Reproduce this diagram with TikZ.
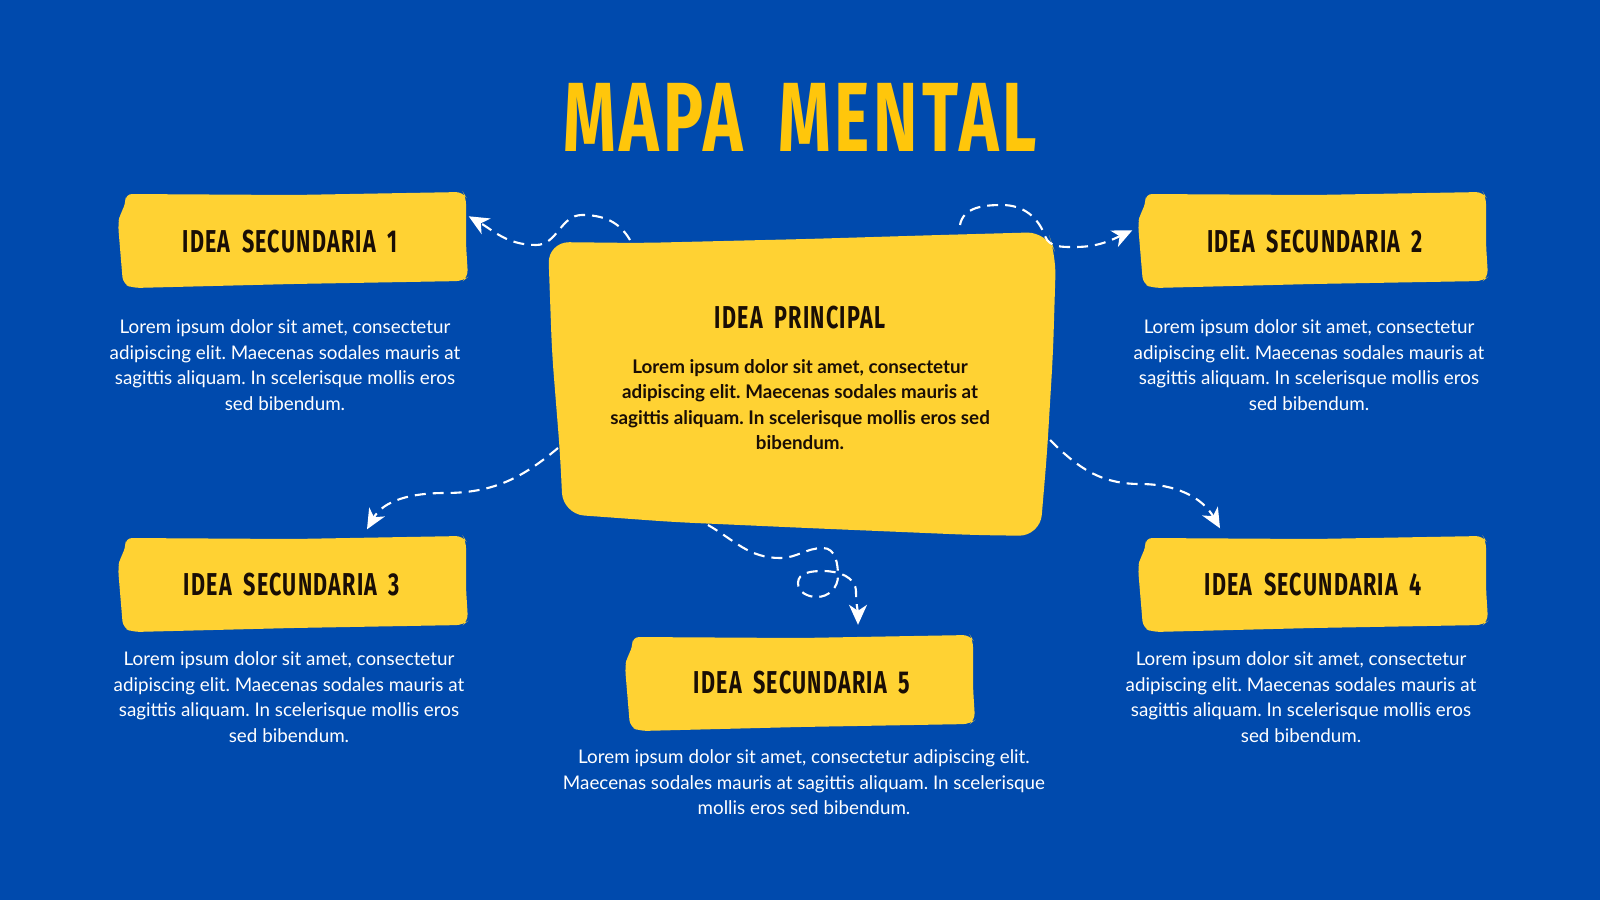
\documentclass[tikz,border=0pt]{standalone}
\usepackage{fontspec}
\setmainfont{Lato}
\newfontfamily\handfont[FakeStretch=0.68,LetterSpace=4,WordSpace=1.4]{Fira Sans}
\newfontfamily\titlefont[FakeStretch=0.68,LetterSpace=4,WordSpace=1.8]{Fira Sans}
\usetikzlibrary{positioning}
\usetikzlibrary{arrows.meta}
\frenchspacing

\definecolor{fondo}{HTML}{004AAD}
\definecolor{amarillo}{HTML}{FFD233}
\definecolor{titulo}{HTML}{FFC60B}
\definecolor{tinta}{HTML}{1A0E05}

\tikzset{
  brush/.pic={
    \fill[amarillo,rounded corners=2pt] (-1.68,0.46) -- (0,0.45) -- (1.70,0.48) -- (1.73,0.43)
      -- (1.73,-0.04) -- (1.75,-0.37) -- (1.70,-0.41) -- (0,-0.44) -- (-1.60,-0.48)
      -- (-1.70,-0.44) -- (-1.72,-0.20) -- (-1.75,0.16) -- (-1.73,0.26) -- (-1.67,0.36) -- cycle;
  },
  secbox/.style={minimum width=3.5cm,minimum height=0.94cm,inner sep=0pt,text=tinta,
    font=\handfont\bfseries\fontsize{9}{10}\selectfont},
  desc/.style={text=white,align=center,inner sep=0pt,font=\fontsize{5.35}{7.25}\selectfont},
  link/.style={white,line width=0.6pt,dash pattern=on 1.1mm off 0.7mm,
    -{Stealth[length=2mm,width=1.8mm,inset=0.6mm]}},
}

\begin{document}
\begin{tikzpicture}
  \fill[fondo] (0,0) rectangle (16,9);
  \node[text=titulo,font=\titlefont\bfseries\fontsize{28}{30}\selectfont] (titulo) at (8.0,7.83) {MAPA MENTAL};

  % idea principal
  \fill[amarillo,rounded corners=6pt] (5.48,6.58) -- (6.40,6.57) -- (8.07,6.61) -- (9.40,6.65)
    -- (10.48,6.68) -- (10.56,6.45) -- (10.53,5.47) -- (10.47,4.47) -- (10.40,3.64)
    -- (9.73,3.65) -- (8.07,3.72) -- (6.73,3.78) -- (5.63,3.86) -- (5.60,4.47) -- (5.52,5.47) -- cycle;
  \node[secbox] (ppal) at (8.0,5.82) {IDEA PRINCIPAL};
  \node[desc,text=tinta,font=\bfseries\fontsize{5.35}{7.25}\selectfont] (ppaltxt) at (8.0,4.955)
    {Lorem ipsum dolor sit amet, consectetur\\adipiscing elit. Maecenas sodales mauris at\\sagittis aliquam. In scelerisque mollis eros sed\\bibendum.};

  % ideas secundarias
  \foreach \p in {(2.93,6.60),(13.13,6.60),(2.93,3.16),(13.13,3.16),(8.00,2.17)}
    \pic at \p {brush};
  \node[secbox] (sec1) at (2.90,6.58) {IDEA SECUNDARIA 1};
  \node[secbox] (sec2) at (13.15,6.58) {IDEA SECUNDARIA 2};
  \node[secbox] (sec3) at (2.92,3.15) {IDEA SECUNDARIA 3};
  \node[secbox] (sec4) at (13.13,3.15) {IDEA SECUNDARIA 4};
  \node[secbox] (sec5) at (8.02,2.175) {IDEA SECUNDARIA 5};

  \node[desc] (desc1) at (2.85,5.35) {Lorem ipsum dolor sit amet, consectetur\\adipiscing elit. Maecenas sodales mauris at\\sagittis aliquam. In scelerisque mollis eros\\sed bibendum.};
  \node[desc] (desc2) at (13.09,5.35) {Lorem ipsum dolor sit amet, consectetur\\adipiscing elit. Maecenas sodales mauris at\\sagittis aliquam. In scelerisque mollis eros\\sed bibendum.};
  \node[desc] (desc3) at (2.89,2.03) {Lorem ipsum dolor sit amet, consectetur\\adipiscing elit. Maecenas sodales mauris at\\sagittis aliquam. In scelerisque mollis eros\\sed bibendum.};
  \node[desc] (desc4) at (13.01,2.03) {Lorem ipsum dolor sit amet, consectetur\\adipiscing elit. Maecenas sodales mauris at\\sagittis aliquam. In scelerisque mollis eros\\sed bibendum.};
  \node[desc] (desc5) at (8.04,1.175) {Lorem ipsum dolor sit amet, consectetur adipiscing elit.\\Maecenas sodales mauris at sagittis aliquam. In scelerisque\\mollis eros sed bibendum.};

  % conectores
  \coordinate (s1) at (6.30,6.60);
  \coordinate (s2) at (9.60,6.75);
  \coordinate (s3) at (5.58,4.52);
  \coordinate (s4) at (10.50,4.60);
  \coordinate (s5) at (7.08,3.75);
  \draw[link] (s1) to[out=120,in=0] (5.82,6.85) to[out=180,in=0] (5.36,6.55)
    to[out=180,in=-30] ([xshift=0.3mm,yshift=-2.2mm]sec1.north east);
  \draw[link] (s2) to[out=80,in=180] (10.02,6.95) to[out=0,in=110] (10.45,6.64)
    to[out=-70,in=180] (10.75,6.53) to[out=0,in=-155] ([xshift=-0.7mm,yshift=-3.6mm]sec2.north west);
  \draw[link] (s3) to[out=220,in=0] (4.45,4.07) to[out=180,in=60] ([xshift=7.5mm,yshift=0.8mm]sec3.north);
  \draw[link] (s4) to[out=-45,in=180] (11.40,4.16) to[out=0,in=120] ([xshift=-9.3mm,yshift=0.9mm]sec4.north);
  \draw[link] (s5) to[out=-30,in=180] (7.80,3.42) to[out=0,in=180] (8.23,3.52)
    to[out=0,in=90] (8.38,3.24) to[out=-90,in=0] (8.17,3.03) to[out=180,in=-90] (7.98,3.17)
    to[out=90,in=180] (8.23,3.29) to[out=0,in=90] (8.56,3.08)
    to[out=-90,in=90] ([xshift=5.6mm,yshift=1mm]sec5.north);
\end{tikzpicture}
\end{document}
